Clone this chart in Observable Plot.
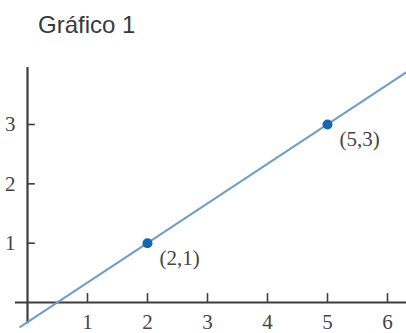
<!DOCTYPE html>
<html>
<head>
<meta charset="utf-8">
<script src="https://cdn.jsdelivr.net/npm/d3@7"></script>
<script src="https://cdn.jsdelivr.net/npm/@observablehq/plot@0.6"></script>
<style>
  html, body { margin: 0; padding: 0; background: #fff; overflow: hidden; }
  #wrap { position: relative; width: 406px; height: 333px; }
  #title { position: absolute; left: 38px; top: 13px; font-family: "Liberation Sans", Arial, sans-serif; font-size: 24px; line-height: 1; color: #3a3a3a; white-space: nowrap; }
  #chart { position: absolute; left: 0; top: 0; }
</style>
</head>
<body>
<div id="wrap">
  <div id="chart"></div>
  <div id="title">Gráfico 1</div>
</div>
<script>
const xTicks = [1, 2, 3, 4, 5, 6];
const yTicks = [1, 2, 3];
const points = [
  { x: 2, y: 1, label: "(2,1)" },
  { x: 5, y: 3, label: "(5,3)" }
];
const lineX = [-0.12, 6.33];
const lineY = [-0.41, 3.89];
const linePts = lineX.map((x, i) => ({ x, y: lineY[i] }));

const serif = "'Liberation Serif', 'DejaVu Serif', serif";
const axisColor = "#3d3d3d";

const plot = Plot.plot({
  width: 406,
  height: 333,
  margin: 0,
  x: { domain: [0, 6], range: [27, 387], axis: null },
  y: { domain: [0, 3], range: [302, 124], axis: null },
  style: { background: "transparent", overflow: "hidden" },
  marks: [
    Plot.ruleX([0], { y1: -0.36, y2: 3.96, stroke: axisColor, strokeWidth: 2.2 }),
    Plot.ruleY([0], { x1: -0.2, x2: 6.4, stroke: axisColor, strokeWidth: 2 }),
    Plot.ruleX(xTicks, { x: d => d, y1: 0, y2: 0.15, stroke: axisColor, strokeWidth: 1.6 }),
    Plot.ruleY(yTicks, { y: d => d, x1: 0, x2: 0.13, stroke: axisColor, strokeWidth: 1.6 }),
    Plot.text(xTicks, { x: d => d, y: 0, text: d => String(d), dy: 20, fontSize: 21, fontFamily: serif, fill: "#444" }),
    Plot.text(yTicks, { x: 0, y: d => d, text: d => String(d), dx: -12, textAnchor: "end", fontSize: 21, fontFamily: serif, fill: "#444" }),
    Plot.line(linePts, { x: "x", y: "y", stroke: "#6f9ec6", strokeWidth: 2 }),
    Plot.dot(points, { x: "x", y: "y", r: 5, fill: "#1667b2", stroke: "none" }),
    Plot.text(points, { x: "x", y: "y", text: "label", dx: 12, dy: 15, textAnchor: "start", fontSize: 21, fontFamily: serif, fill: "#444", style: "letter-spacing:2.5px" })
  ]
});
document.getElementById("chart").appendChild(plot);
</script>
</body>
</html>
